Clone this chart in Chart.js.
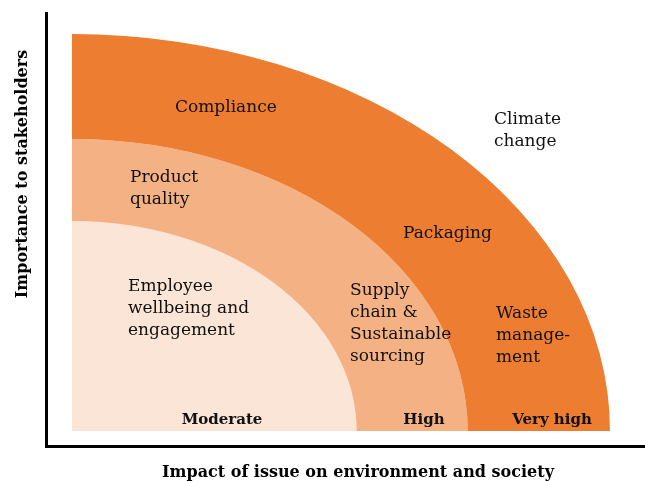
<!DOCTYPE html>
<html>
<head>
<meta charset="utf-8">
<script src="https://cdn.jsdelivr.net/npm/chart.js@4.4.1/dist/chart.umd.min.js"></script>
<style>
  html, body { margin: 0; padding: 0; background: #fff; }
  #wrap { position: relative; width: 645px; height: 481px; }
  #wrap canvas { position: absolute; left: 0; top: 0; }
</style>
</head>
<body>
<div id="wrap">
  <canvas id="axes-chart" width="645" height="481"></canvas>
  <canvas id="band-chart" width="645" height="481"></canvas>
</div>
<script>
// materiality levels, outermost first (outer bound of each band, in relative units)
const levels = ['Very high', 'High', 'Moderate'];
const levelBounds = [397, 292, 210];
const levelColors = ['#ED7D31', '#F4B183', '#FBE5D6'];

// issues, one entry per label block
const issues = [
  ['Compliance'],
  ['Climate', 'change'],
  ['Product', 'quality'],
  ['Packaging'],
  ['Employee', 'wellbeing and', 'engagement'],
  ['Supply', 'chain &', 'Sustainable', 'sourcing'],
  ['Waste', 'manage-', 'ment']
];

const xTitle = 'Impact of issue on environment and society';
const yTitle = 'Importance to stakeholders';

// layout (page pixels)
const issuePos = [[175, 112], [494, 124], [130, 182], [403, 238], [128, 291], [350, 295], [496, 318]];
const levelLabelX = [552, 424, 222];
const LINE_H = 22;
const STRETCH_X = 538 / 397;
const SERIF = '"DejaVu Serif", serif';

// band widths become ring weights
const ringWeights = levelBounds.map((b, i) => b - (levelBounds[i + 1] || 0));

const axisTitles = {
  id: 'axisTitles',
  afterDraw(chart) {
    const ctx = chart.ctx;
    ctx.save();
    ctx.fillStyle = '#000';
    ctx.font = 'bold 16px ' + SERIF;
    ctx.textAlign = 'center';
    ctx.textBaseline = 'alphabetic';
    ctx.fillText(xTitle, 358, 477);
    ctx.translate(27, 174);
    ctx.rotate(-Math.PI / 2);
    ctx.fillText(yTitle, 0, 0);
    ctx.restore();
  }
};

new Chart(document.getElementById('axes-chart'), {
  type: 'scatter',
  data: { datasets: [{ data: [] }] },
  options: {
    responsive: false,
    animation: false,
    events: [],
    layout: { padding: { left: 46, top: 13, right: 0, bottom: 35 } },
    plugins: { legend: { display: false }, tooltip: { enabled: false } },
    scales: {
      x: {
        min: 0, max: 1,
        ticks: { display: false },
        grid: { display: false, drawTicks: false },
        border: { color: '#000', width: 3 },
        afterFit: s => { s.height = 0; }
      },
      y: {
        min: 0, max: 1,
        ticks: { display: false },
        grid: { display: false, drawTicks: false },
        border: { color: '#000', width: 3 },
        afterFit: s => { s.width = 0; }
      }
    }
  },
  plugins: [axisTitles]
});

// stretch the quarter rings horizontally into the elliptical shape
const stretch = {
  id: 'stretch',
  beforeDatasetsDraw(chart) {
    const ctx = chart.ctx, left = chart.chartArea.left;
    ctx.save();
    ctx.translate(left, 0);
    ctx.scale(STRETCH_X, 1);
    ctx.translate(-left, 0);
  },
  afterDatasetsDraw(chart) {
    chart.ctx.restore();
  }
};

const bandLabels = {
  id: 'bandLabels',
  afterDraw(chart) {
    const ctx = chart.ctx;
    ctx.save();
    ctx.fillStyle = '#111';
    ctx.textBaseline = 'alphabetic';
    ctx.font = '17px ' + SERIF;
    ctx.textAlign = 'left';
    issues.forEach((lines, i) => {
      lines.forEach((t, j) => ctx.fillText(t, issuePos[i][0], issuePos[i][1] + j * LINE_H));
    });
    ctx.font = 'bold 15px ' + SERIF;
    ctx.textAlign = 'center';
    levels.forEach((l, i) => ctx.fillText(l, levelLabelX[i], 424));
    ctx.restore();
  }
};

new Chart(document.getElementById('band-chart'), {
  type: 'doughnut',
  data: {
    labels: ['band'],
    datasets: levels.map((l, i) => ({
      label: l,
      data: [1],
      weight: ringWeights[i],
      backgroundColor: levelColors[i],
      borderWidth: 0
    }))
  },
  options: {
    responsive: false,
    animation: false,
    events: [],
    circumference: 90,
    rotation: 0,
    cutout: 0,
    layout: { padding: { left: 72, top: 34, right: 176, bottom: 50 } },
    plugins: { legend: { display: false }, tooltip: { enabled: false } }
  },
  plugins: [stretch, bandLabels]
});
</script>
</body>
</html>
